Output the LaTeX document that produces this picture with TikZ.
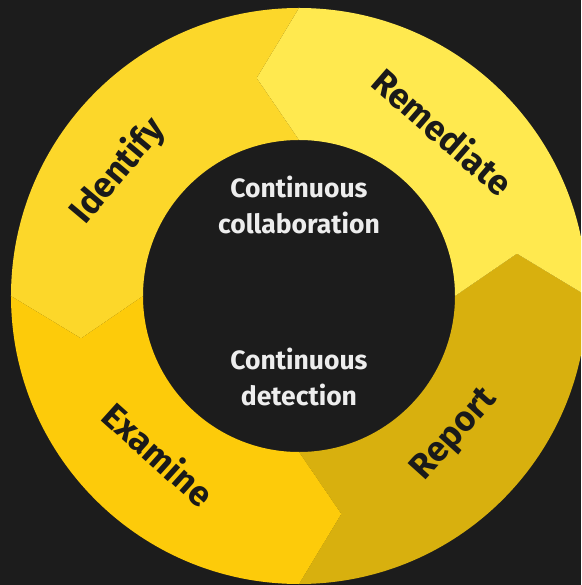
\documentclass[tikz,border=0pt]{standalone}
\usepackage{fontspec}
\setmainfont{Fira Sans}
\usepackage{xcolor}
\usetikzlibrary{positioning}
\definecolor{bgdark}{HTML}{1C1C1C}
\definecolor{identify}{HTML}{FCD72A}
\definecolor{remediate}{HTML}{FFE94F}
\definecolor{examine}{HTML}{FDCB0A}
\definecolor{report}{HTML}{D8B00E}
\definecolor{stagetext}{HTML}{1A1A1A}
\definecolor{hubtext}{HTML}{EDEDED}
\tikzset{
  stage/.style={
    font=\bfseries\fontsize{35}{40}\selectfont,
    text=stagetext, inner sep=0pt
  },
  hub/.style={
    font=\bfseries\fontsize{26.5}{36}\selectfont,
    text=hubtext, align=center
  },
}

\begin{document}
\begin{tikzpicture}[x=1pt,y=1pt]

\fill[bgdark] (-299,-289) rectangle (282,296);
\clip (-299,-289) rectangle (282,296);

% ring pieces, each one pointing counterclockwise
\foreach \a/\col in {270/report, 0/remediate, 90/identify, 180/examine}{
  \fill[\col] (\a:156) -- ({\a+11}:222) -- (\a:288)
    arc[start angle=\a, end angle={\a+90}, radius=288]
    -- ({\a+101}:222) -- ({\a+90}:156)
    arc[start angle={\a+90}, end angle=\a, radius=156] -- cycle;
}

\node[stage, rotate=50] (identify) at (-181,125) {Identify};
\node[stage, rotate=-41] (remediate) at (144,165) {Remediate};
\node[stage, rotate=-42] (examine) at (-140,-158) {Examine};
\node[stage, rotate=48] (report) at (156,-139) {Report};

\node[hub] (collab) at (0,91) {Continuous\\collaboration};
\node[hub] (detect) at (0,-81) {Continuous\\detection};

\end{tikzpicture}
\end{document}
